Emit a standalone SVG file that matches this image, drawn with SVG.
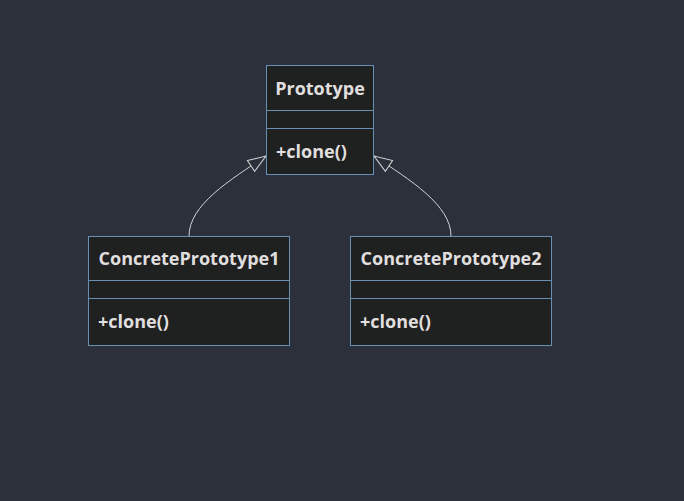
<svg xmlns="http://www.w3.org/2000/svg" width="684" height="501" viewBox="0 0 684 501">
<style>
.bg{fill:#2b303b}
.box{fill:#1f2020;stroke:#6a8fb5;stroke-width:1}
.div{stroke:#6a8fb5;stroke-width:1}
.t{font-family:"Open Sans","DejaVu Sans",sans-serif;font-size:18px;font-weight:bold;fill:#e0dfdf}
.edge{fill:none;stroke:#d3d3d3;stroke-width:1}
</style>
<defs>
<marker id="ext" markerUnits="userSpaceOnUse" markerWidth="20" markerHeight="16" viewBox="0 0 20 16" refX="19" refY="8" orient="auto">
<path d="M1,1.5 L19,8 L1,14.5 Z" fill="#2b303b" stroke="#d3d3d3" stroke-width="1"/>
</marker>
</defs>
<rect class="bg" x="0" y="0" width="684" height="501"/>
<g id="connectors">
<path class="edge" d="M189,236 C189,205 230,180 266,156" marker-end="url(#ext)"/>
<path class="edge" d="M451,236 C451,205 410,180 374,156" marker-end="url(#ext)"/>
</g>
<g id="Prototype">
<rect class="box" x="266.5" y="65.5" width="107" height="109"/>
<line class="div" x1="266.5" y1="110.5" x2="373.5" y2="110.5"/>
<line class="div" x1="266.5" y1="128.5" x2="373.5" y2="128.5"/>
<text class="t" x="320" y="95" text-anchor="middle">Prototype</text>
<text class="t" x="276" y="158">+clone()</text>
</g>
<g id="ConcretePrototype1">
<rect class="box" x="88.5" y="236.5" width="201" height="109"/>
<line class="div" x1="88.5" y1="280.5" x2="289.5" y2="280.5"/>
<line class="div" x1="88.5" y1="298.5" x2="289.5" y2="298.5"/>
<text class="t" x="189" y="265" text-anchor="middle">ConcretePrototype1</text>
<text class="t" x="98" y="328">+clone()</text>
</g>
<g id="ConcretePrototype2">
<rect class="box" x="350.5" y="236.5" width="201" height="109"/>
<line class="div" x1="350.5" y1="280.5" x2="551.5" y2="280.5"/>
<line class="div" x1="350.5" y1="298.5" x2="551.5" y2="298.5"/>
<text class="t" x="451" y="265" text-anchor="middle">ConcretePrototype2</text>
<text class="t" x="360" y="328">+clone()</text>
</g>
</svg>
